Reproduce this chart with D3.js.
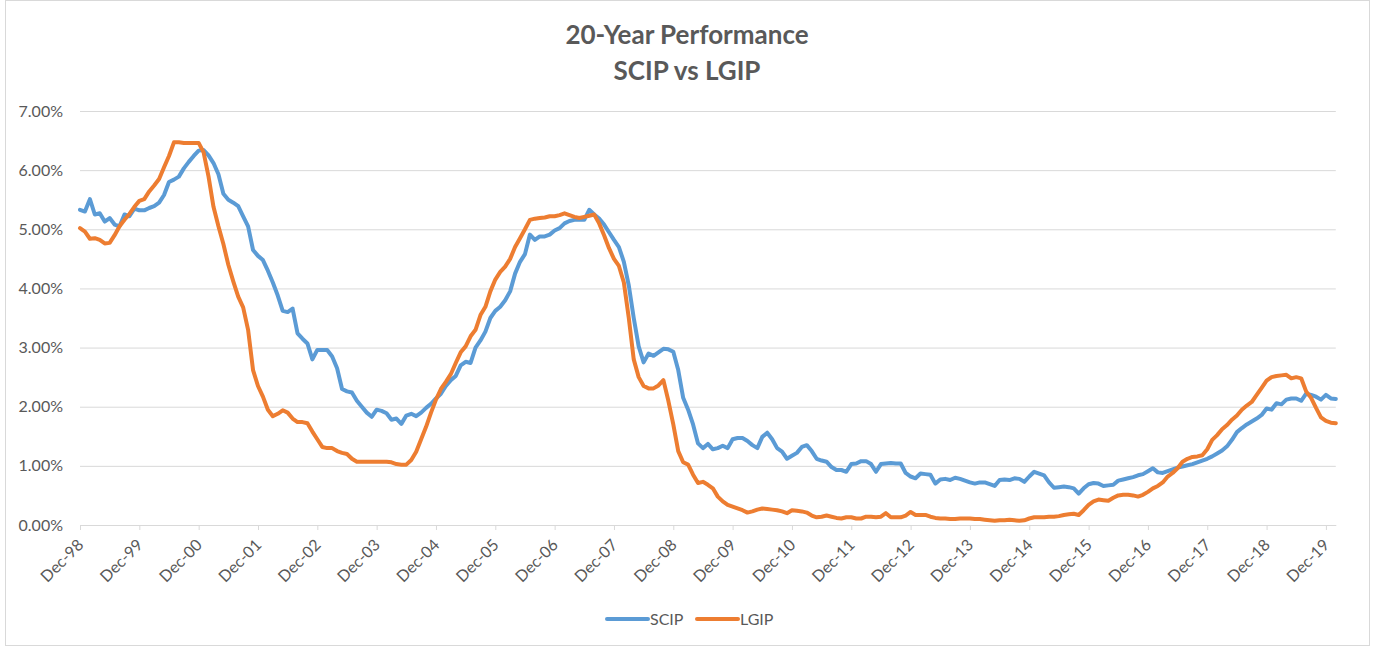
<!DOCTYPE html>
<html>
<head>
<meta charset="utf-8">
<script src="https://cdn.jsdelivr.net/npm/d3@7"></script>
<style>
    body { margin: 0; background: #fff; }
    svg { display: block; font-family: Lato, "Open Sans", sans-serif; }
</style>
</head>
<body>
<div id="svganchor"></div>
<script>
// Monthly yields (%), one row per year starting Dec-98
let scip = [
    5.33,5.30,5.51,5.25,5.27,5.13,5.19,5.08,5.05,5.25,5.22,5.35,
    5.32,5.32,5.36,5.39,5.45,5.58,5.80,5.84,5.89,6.03,6.14,6.24,
    6.33,6.34,6.25,6.12,5.93,5.60,5.50,5.45,5.39,5.22,5.05,4.65,
    4.55,4.48,4.30,4.10,3.88,3.62,3.60,3.66,3.24,3.15,3.07,2.80,
    2.96,2.96,2.96,2.85,2.65,2.30,2.26,2.24,2.10,2.00,1.90,1.83,
    1.95,1.93,1.89,1.78,1.80,1.71,1.85,1.88,1.84,1.90,1.98,2.05,
    2.14,2.22,2.35,2.45,2.52,2.70,2.76,2.74,3.00,3.12,3.27,3.50,
    3.62,3.69,3.80,3.95,4.25,4.45,4.58,4.91,4.82,4.88,4.88,4.91,
    4.98,5.02,5.10,5.14,5.16,5.16,5.16,5.33,5.25,5.18,5.08,4.95,
    4.82,4.70,4.45,4.05,3.50,3.02,2.75,2.90,2.86,2.92,2.98,2.97,
    2.93,2.62,2.15,1.95,1.70,1.38,1.30,1.37,1.28,1.30,1.34,1.30,
    1.45,1.47,1.47,1.42,1.35,1.30,1.49,1.56,1.45,1.30,1.24,1.12,
    1.17,1.22,1.32,1.35,1.25,1.12,1.09,1.07,0.98,0.93,0.93,0.90,
    1.03,1.04,1.08,1.08,1.03,0.90,1.03,1.04,1.05,1.04,1.04,0.88,
    0.82,0.79,0.87,0.86,0.85,0.70,0.77,0.78,0.76,0.80,0.78,0.75,
    0.72,0.70,0.72,0.72,0.69,0.66,0.76,0.77,0.76,0.79,0.78,0.73,
    0.82,0.90,0.87,0.84,0.72,0.63,0.64,0.65,0.64,0.62,0.53,0.62,
    0.69,0.71,0.70,0.66,0.67,0.68,0.75,0.77,0.79,0.81,0.84,0.86,
    0.91,0.96,0.89,0.88,0.91,0.94,0.97,0.99,1.01,1.03,1.06,1.09,
    1.12,1.16,1.21,1.26,1.33,1.44,1.57,1.64,1.70,1.75,1.80,1.86,
    1.97,1.95,2.06,2.04,2.12,2.14,2.14,2.10,2.22,2.20,2.17,2.12,
    2.20,2.14,2.13
];

let lgip = [
    5.02,4.96,4.84,4.85,4.82,4.76,4.77,4.90,5.05,5.16,5.26,5.38,
    5.48,5.51,5.64,5.74,5.85,6.05,6.24,6.47,6.47,6.46,6.46,6.46,
    6.46,6.30,5.89,5.38,5.05,4.75,4.40,4.12,3.86,3.68,3.30,2.62,
    2.35,2.17,1.95,1.84,1.88,1.94,1.90,1.80,1.74,1.74,1.72,1.58,
    1.45,1.32,1.30,1.30,1.25,1.22,1.20,1.12,1.07,1.07,1.07,1.07,
    1.07,1.07,1.07,1.06,1.03,1.02,1.02,1.10,1.24,1.45,1.66,1.90,
    2.12,2.30,2.42,2.55,2.74,2.92,3.02,3.19,3.30,3.55,3.69,3.95,
    4.15,4.28,4.37,4.50,4.70,4.85,5.00,5.16,5.18,5.19,5.20,5.22,
    5.22,5.24,5.27,5.24,5.21,5.19,5.21,5.23,5.25,5.10,4.90,4.68,
    4.50,4.38,4.10,3.50,2.80,2.50,2.35,2.31,2.31,2.36,2.45,2.10,
    1.70,1.25,1.06,1.02,0.85,0.71,0.73,0.68,0.62,0.48,0.40,0.34,
    0.31,0.28,0.25,0.21,0.23,0.26,0.28,0.27,0.26,0.25,0.23,0.20,
    0.25,0.24,0.23,0.21,0.16,0.13,0.14,0.16,0.14,0.12,0.11,0.13,
    0.13,0.11,0.11,0.14,0.14,0.13,0.14,0.20,0.13,0.13,0.13,0.16,
    0.22,0.17,0.17,0.17,0.14,0.12,0.11,0.11,0.10,0.10,0.11,0.11,
    0.11,0.10,0.10,0.09,0.08,0.07,0.08,0.08,0.09,0.08,0.07,0.08,
    0.11,0.13,0.13,0.13,0.14,0.14,0.15,0.17,0.18,0.19,0.17,0.25,
    0.34,0.40,0.43,0.42,0.41,0.46,0.50,0.51,0.51,0.50,0.48,0.51,
    0.56,0.62,0.66,0.72,0.82,0.88,0.96,1.07,1.12,1.15,1.16,1.18,
    1.28,1.44,1.52,1.62,1.69,1.78,1.85,1.95,2.02,2.08,2.20,2.32,
    2.44,2.50,2.52,2.53,2.54,2.48,2.50,2.48,2.26,2.15,1.98,1.82,
    1.76,1.73,1.72
];

let tickLabels = ["Dec-98","Dec-99","Dec-00","Dec-01","Dec-02","Dec-03","Dec-04",
    "Dec-05","Dec-06","Dec-07","Dec-08","Dec-09","Dec-10","Dec-11","Dec-12",
    "Dec-13","Dec-14","Dec-15","Dec-16","Dec-17","Dec-18","Dec-19"];
let yTicks = [0, 1, 2, 3, 4, 5, 6, 7];
let seriesNames = ["SCIP", "LGIP"];

let width = 1377;
let height = 647;
let margin = ({top: 111, right: 41, bottom: 122, left: 80});
let textColor = "#595959";
let gridColor = "#d9d9d9";

let colors = d3.scaleOrdinal()
    .domain(seriesNames)
    .range(["#5b9bd5", "#ed7d31"]);

let svg = d3.select("#svganchor")
    .append("svg")
    .attr("width", width)
    .attr("height", height);

// chart border
svg.append("rect")
    .attr("x", 5.5).attr("y", 0.5)
    .attr("width", 1364).attr("height", 645)
    .attr("fill", "#fff")
    .attr("stroke", gridColor);

let xScale = d3.scaleLinear()
    .domain([0, scip.length - 1])
    .range([margin.left, width - margin.right - 0.2]);

let yScale = d3.scaleLinear()
    .domain([0, 7])
    .range([height - margin.bottom, margin.top]);

// title
let title = svg.append("text")
    .attr("text-anchor", "middle")
    .attr("fill", textColor)
    .style("font-size", "26px")
    .style("font-weight", "bold");
title.append("tspan").attr("x", 687).attr("y", 44).text("20-Year Performance");
title.append("tspan").attr("x", 687).attr("y", 80).text("SCIP vs LGIP");

// horizontal gridlines + y labels
let yAxis = d3.axisLeft(yScale)
    .tickValues(yTicks)
    .tickSize(-(xScale.range()[1] - margin.left))
    .tickPadding(17)
    .tickFormat(d => d3.format(".2f")(d) + "%");

svg.append("g")
    .attr("transform", "translate(" + margin.left + ",0)")
    .call(yAxis)
    .call(g => g.select(".domain").remove())
    .call(g => g.selectAll("line").attr("stroke", gridColor))
    .call(g => g.selectAll("text")
        .attr("fill", textColor)
        .style("font-size", "16px")
        .style("font-family", "Lato, sans-serif"));

// x axis with rotated labels
let xAxis = d3.axisBottom(xScale)
    .tickValues(tickLabels.map((d, i) => i * 12))
    .tickSize(5)
    .tickSizeOuter(0)
    .tickFormat((d, i) => tickLabels[i]);

svg.append("g")
    .attr("transform", "translate(0," + (height - margin.bottom) + ")")
    .call(xAxis)
    .call(g => g.select(".domain").attr("stroke", gridColor))
    .call(g => g.selectAll("line").attr("stroke", gridColor))
    .call(g => g.selectAll("text")
        .attr("x", 0).attr("y", 0).attr("dy", 0)
        .attr("text-anchor", "end")
        .attr("transform", "translate(4,21) rotate(-45)")
        .attr("fill", textColor)
        .style("font-size", "16px")
        .style("font-family", "Lato, sans-serif"));

// series lines
let line = d3.line()
    .x((d, i) => xScale(i))
    .y(d => yScale(d));

[scip, lgip].forEach(function(values, k) {
    svg.append("path")
        .datum(values)
        .attr("fill", "none")
        .attr("stroke", colors(seriesNames[k]))
        .attr("stroke-width", 4)
        .attr("stroke-linejoin", "round")
        .attr("stroke-linecap", "round")
        .attr("d", line);
});

// legend
let legendX = [607, 697];
let legend = svg.append("g");
seriesNames.forEach(function(name, k) {
    legend.append("line")
        .attr("x1", legendX[k]).attr("x2", legendX[k] + 41)
        .attr("y1", 619).attr("y2", 619)
        .attr("stroke", colors(name))
        .attr("stroke-width", 4)
        .attr("stroke-linecap", "round");
    legend.append("text")
        .attr("x", legendX[k] + 43)
        .attr("y", 625)
        .attr("fill", textColor)
        .style("font-size", "16px")
        .text(name);
});
</script>
</body>
</html>
